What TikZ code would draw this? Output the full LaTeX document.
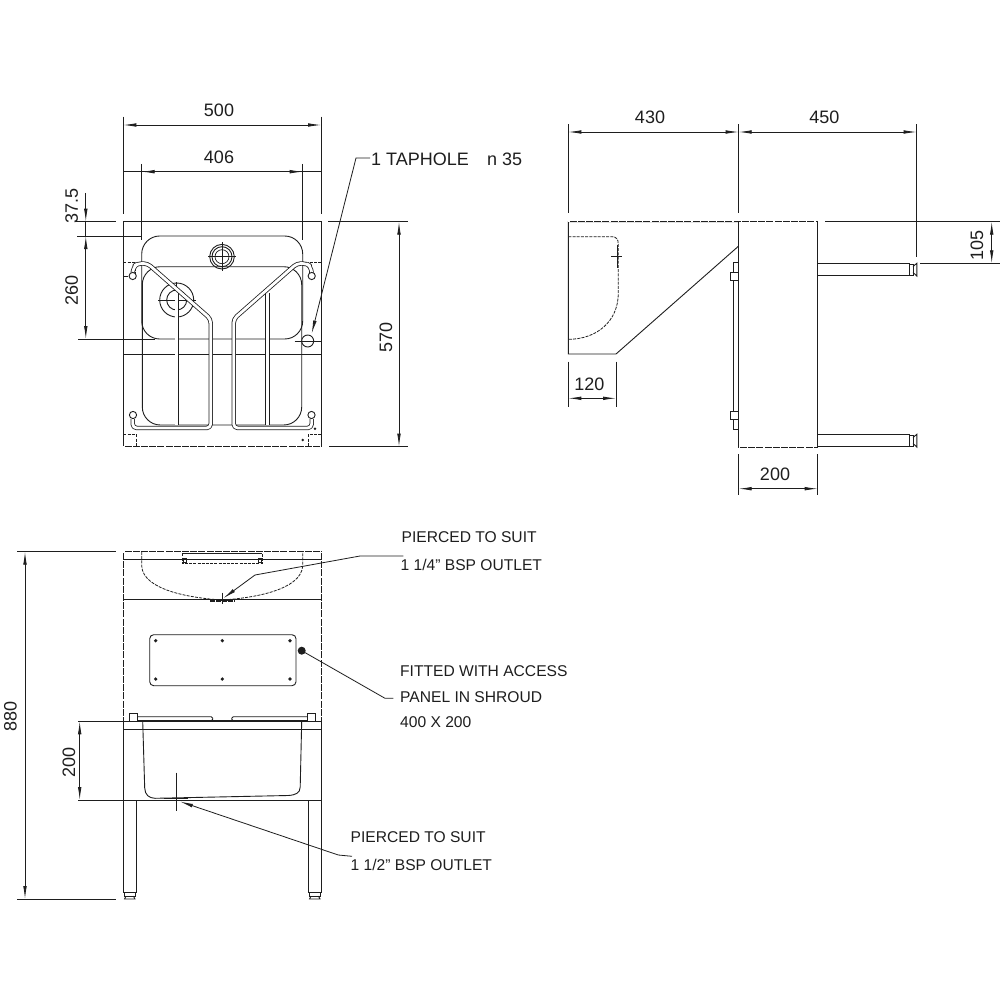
\documentclass[tikz,border=0pt]{standalone}
\usepackage{fontspec}
\setmainfont{Liberation Sans}
\usetikzlibrary{arrows.meta}
\definecolor{ink}{HTML}{1E1E1E}
\tikzset{
  ln/.style={draw=ink,line width=0.9pt},
  thin ln/.style={draw=ink,line width=0.7pt},
  dim/.style={draw=ink,line width=0.8pt,{Latex[length=13pt,width=3.6pt]}-{Latex[length=13pt,width=3.6pt]}},
  ext/.style={draw=ink,line width=0.8pt},
  lead/.style={draw=ink,line width=0.8pt,-{Latex[length=13pt,width=3.6pt]}},
  dsh/.style={draw=ink,line width=0.8pt,dash pattern=on 3pt off 1.2pt},
  gaps/.style={draw=white,line width=0.5pt,dash pattern=on 1.2pt off 7pt},
  rail/.style={draw=ink,line width=0.8pt,double=white,double distance=2.8pt,rounded corners=4pt,line join=round},
  lab/.style={inner sep=0pt,font=\fontsize{18}{18}\selectfont,text=ink},
  note/.style={inner sep=0pt,anchor=west,font=\fontsize{15.6}{16}\selectfont,text=ink},
}
\begin{document}
\begin{tikzpicture}[x=1pt,y=-1pt]
\useasboundingbox (0,0) rectangle (1000,1000);
\fill[white] (0,0) rectangle (1000,1000);

% ============ PLAN VIEW
\draw[ln] (123.3,221.7) rectangle (321,446.7);
\draw[gaps] (123.3,446.7) -- (321,446.7);
\draw[ln] (123.3,354) -- (321,354);
\draw[ln,rounded corners=18pt] (141.7,339) -- (141.7,236) -- (302.7,236) -- (302.7,339) -- cycle;
\draw[ln,rounded corners=18pt] (142.3,266.7) rectangle (301.7,425);
% dashed corners
\draw[dsh] (123.3,262.7) -- (135,262.7) -- (135,276);
\draw[dsh] (321,262.7) -- (309.5,262.7) -- (309.5,276);
\draw[dsh] (123.3,434.5) -- (136,434.5) -- (136,446.7);
\draw[dsh] (321,434.5) -- (308.3,434.5) -- (308.3,446.7);
\draw[thin ln] (123.3,276) -- (128,276);
% drains
\draw[ln] (222,256.7) circle (12.3) circle (10) ;
\draw[thin ln] (222,256.7) circle (7);
\draw[thin ln] (208,256.7) -- (236,256.7) (222,242) -- (222,271);
\draw[ln] (176.7,300) circle (17) circle (10);
\draw[thin ln] (158,300) -- (196,300) (176.7,282) -- (176.7,318);
% bars
\draw[rail,rounded corners=0pt] (176.7,291) -- (176.7,425);
\draw[rail,rounded corners=0pt] (267.3,293) -- (267.3,425);
% rails
\draw[rail] (132.7,273) -- (134,266) -- (138,263.5) -- (147.5,263.5) -- (210.7,319) -- (210.7,428) -- (132.7,428) -- (132.7,419);
\draw[rail] (311.7,273) -- (310.4,266) -- (306.4,263.5) -- (296.9,263.5) -- (233.7,319) -- (233.7,428) -- (311.7,428) -- (311.7,419);
\draw[ln,fill=white] (132.7,276) circle (3.6);
\draw[ln,fill=white] (311.7,276) circle (3.6);
\draw[ln,fill=white] (133,415) circle (3.6);
\draw[ln,fill=white] (311.5,415) circle (3.6);
\draw[thin ln] (315,428.7) circle (0.9);
\draw[thin ln] (302.7,440) circle (0.9);
% tap hole
\draw[ln,fill=white] (307.7,341) circle (6);
\draw[thin ln] (294.5,341) -- (321,341);

% plan dimensions
\draw[ext] (123.3,116.7) -- (123.3,214) (321,116.7) -- (321,214);
\draw[dim] (123.3,125) -- (321,125);
\node[lab] (t500) at (219,110.7) {500};
\draw[ext] (141.7,164) -- (141.7,240) (302.7,164) -- (302.7,240);
\draw[ext] (123.3,171.7) -- (321,171.7);
\draw[dim] (141.7,171.7) -- (302.7,171.7);
\node[lab] (t406) at (219,157) {406};
\draw[ext] (76,221.7) -- (116,221.7) (328,221.7) -- (408,221.7);
\draw[ext] (77,236) -- (142,236) (78,339) -- (155,339);
\draw[lead] (85.8,193) -- (85.8,221.7);
\draw[dim] (85.8,236) -- (85.8,339);
\draw[ext] (85.8,221.7) -- (85.8,236);
\node[lab,rotate=90] (t375) at (71.7,205.7) {37.5};
\node[lab,rotate=90] (t260) at (71.7,290.7) {260};
\draw[ext] (329,446.7) -- (408,446.7);
\draw[dim] (399,221.7) -- (399,446.7);
\node[lab,rotate=90] (t570) at (386,337) {570};
\node[lab,anchor=west] (ttap) at (371,159) {1 TAPHOLE};
\node[lab,anchor=west] (tn) at (487,159) {n 35};
\draw[lead] (370,158) -- (356,158) -- (311.7,333.5);

% ============ SIDE VIEW
\draw[ln] (738.7,221.7) rectangle (817.7,447);
\draw[ln] (738.7,221.7) -- (568.3,221.7) -- (568.3,354) -- (616,354) -- (738.7,246);
\draw[gaps] (568.3,221.7) -- (817.7,221.7);
\draw[gaps] (738.7,447) -- (817.7,447);
\draw[dsh] (568.3,236.7) -- (612,236.7) .. controls (616,236.7) and (618.3,239) .. (618.3,244) -- (618.3,293) .. controls (618.3,322) and (596,339.3) .. (568.3,339.3);
\draw[thin ln] (611,256.7) -- (622,256.7) (617.7,245) -- (617.7,268);
\draw[ln] (733,262.3) rectangle (738.7,429.3);
\draw[ln,fill=white] (730.3,272.3) rectangle (738.7,280);
\draw[ln,fill=white] (730.3,411.3) rectangle (738.7,419);
% legs
\draw[ln] (817.7,263.3) -- (909.3,263.3) -- (909.3,275.7) -- (817.7,275.7);
\draw[ln] (909.3,264) rectangle (913,275);
\draw[ln] (913,266.5) -- (916.8,263.3) -- (916.8,276) -- (913,272.5);
\draw[ln] (817.7,434.3) -- (909.3,434.3) -- (909.3,446.7) -- (817.7,446.7);
\draw[ln] (909.3,435) rectangle (913,446);
\draw[ln] (913,437.5) -- (916.8,434.3) -- (916.8,447) -- (913,443.5);
% side dims
\draw[ext] (568.3,124.3) -- (568.3,213.3) (738.7,124.3) -- (738.7,213.3) (916.7,124.3) -- (916.7,256.7);
\draw[dim] (568.3,132) -- (738.7,132);
\draw[dim] (738.7,132) -- (916.7,132);
\node[lab] (t430) at (650,117.7) {430};
\node[lab] (t450) at (824.3,117.7) {450};
\draw[ext] (825,221.7) -- (1000,221.7) (920,263.3) -- (1000,263.3);
\draw[dim] (991.7,221.7) -- (991.7,263.3);
\node[lab,rotate=90] (t105) at (977,245) {105};
\draw[ext] (568.3,361.7) -- (568.3,406.7) (616,361.7) -- (616,406.7);
\draw[dim] (568.3,398.3) -- (616,398.3);
\node[lab] (t120) at (589.3,384) {120};
\draw[ext] (738.7,454.3) -- (738.7,495) (817.7,454.3) -- (817.7,495);
\draw[dim] (738.7,488.7) -- (817.7,488.7);
\node[lab] (t200a) at (775,474) {200};

% ============ FRONT VIEW
\draw[ln] (123.3,800) -- (123.3,551.7) -- (321,551.7) -- (321,800) -- cycle;
\draw[gaps] (123.3,551.7) -- (123.3,721) (321,551.7) -- (321,721) (123.3,551.7) -- (321,551.7);
\draw[ln] (123.3,559) -- (321,559);
\draw[ln] (123.3,599) -- (321,599);
\draw[dsh] (141.7,552) -- (141.7,566) .. controls (143,590) and (190,598) .. (222,600) .. controls (254,598) and (301,590) .. (302.7,566) -- (302.7,552);
% top rail
\draw[dsh] (182.3,553.3) rectangle (262.3,563.3);
\draw[thin ln] (182.3,553.3) -- (262.3,553.3);
\draw[thin ln] (183,558) rectangle (186,562) (258,558) rectangle (261,562);
% centre outlet
\draw[thin ln] (222.3,592.5) -- (222.3,604) (216,600.5) -- (229,600.5);
\draw[draw=ink,line width=1.6pt,dash pattern=on 5pt off 1pt] (210,601) -- (235,601);
% panel
\draw[ln,rounded corners=4pt] (149.7,634.7) rectangle (296,685.7);
\foreach \px/\py in {155.7/640.7,222.3/640.7,290/640.7,155.7/679,222.3/679,290/679}{
  \fill[ink] (\px,\py) circle (1.8);
}
\fill[ink] (301.7,650.7) circle (4);
% sink
\draw[ln] (123.3,729.3) -- (321,729.3);
\draw[ln] (123.3,721.3) -- (321,721.3);
\draw[draw=ink,line width=1.6pt] (137,721) -- (307.5,721);
\draw[ln] (142.7,721.3) -- (144.7,788) .. controls (145,795) and (149,798) .. (155,798.3) -- (288,795.5) .. controls (296,795) and (300,793) .. (300.2,787) -- (301.7,721.3);
\draw[draw=ink,line width=1.4pt] (164,798.7) -- (188,798.7);
\draw[thin ln] (176.7,772.7) -- (176.7,810.7);
\draw[ln,fill=white] (129,713.3) rectangle (137.3,721.3);
\draw[ln,fill=white] (307.3,713.3) rectangle (315.7,721.3);
\draw[ln,rounded corners=1.5pt] (137.3,716.7) -- (212.7,716.7) -- (212.7,720.7) -- (137.3,720.7);
\draw[ln,rounded corners=1.5pt] (307.3,716.7) -- (231.7,716.7) -- (231.7,720.7) -- (307.3,720.7);
% legs
\draw[ln] (123.3,800) -- (123.3,892.7) -- (136,892.7) -- (136,800);
\draw[ln] (308.3,800) -- (308.3,892.7) -- (321,892.7) -- (321,800);
\draw[ln] (124.5,892.7) -- (124.5,896) -- (135,896) -- (135,892.7);
\draw[ln] (126,896) -- (124.5,899) -- (135,899) -- (133.5,896);
\draw[ln] (309.5,892.7) -- (309.5,896) -- (320,896) -- (320,892.7);
\draw[ln] (311,896) -- (309.5,899) -- (320,899) -- (318.5,896);
% front dims
\draw[ext] (17,551.7) -- (116,551.7) (17,899) -- (116,899);
\draw[dim] (25,551.7) -- (25,899);
\node[lab,rotate=90] (t880) at (10.5,716.7) {880};
\draw[ext] (78,721.3) -- (123.3,721.3) (78,800) -- (123.3,800);
\draw[dim] (79.7,721.3) -- (79.7,800);
\node[lab,rotate=90] (t200b) at (69,762.3) {200};
% notes
\node[note] (n1) at (401.5,537.5) {PIERCED TO SUIT};
\node[note] (n2) at (400.5,565) {1 1/4" BSP OUTLET};
\node[note] (n3) at (400,670.7) {FITTED WITH ACCESS};
\node[note] (n4) at (400,696.7) {PANEL IN SHROUD};
\node[note] (n5) at (400,722.3) {400 X 200};
\node[note] (n6) at (350.5,836.7) {PIERCED TO SUIT};
\node[note] (n7) at (350.5,865) {1 1/2" BSP OUTLET};
\draw[lead] (403.3,556) -- (360,556) -- (255,575) -- (223.3,598.3);
\draw[ext] (393.3,698.3) -- (385,698.3) -- (301.7,650.7);
\draw[lead] (352,856.3) -- (338.3,855) -- (180,801.5);
\end{tikzpicture}
\end{document}
